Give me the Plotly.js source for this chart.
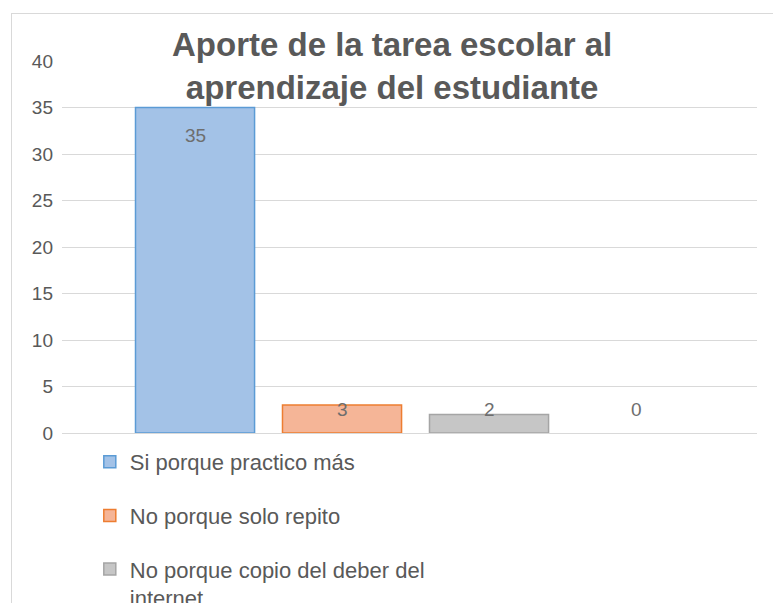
<!DOCTYPE html>
<html>
<head>
<meta charset="utf-8">
<script src="https://cdn.plot.ly/plotly-3.0.1.min.js"></script>
<style>
  html, body { margin: 0; padding: 0; background: #fff; }
  #wrap { position: relative; width: 773px; height: 603px; overflow: hidden; }
  #chart { position: absolute; left: 0; top: 0; width: 773px; height: 603px; }
  #frame { position: absolute; left: 11px; top: 13px; width: 780px; height: 620px;
           border: 1px solid #d9d9d9; box-sizing: border-box; pointer-events: none; }
</style>
</head>
<body>
<div id="wrap">
  <div id="chart"></div>
  <div id="frame"></div>
</div>
<script>
const categories = ["Si porque practico más", "No porque solo repito", "No porque copio del deber del<br>internet", "Otro"];
const values = [35, 3, 2, 0];
const tickValues = [0, 5, 10, 15, 20, 25, 30, 35, 40];
const titleText = "<b>Aporte de la tarea escolar al<br>aprendizaje del estudiante</b>";
const fillColors = ["#a3c2e7", "#f5b597", "#c6c6c6", "#ffffff"];
const lineColors = ["#5b9bd5", "#ed7d31", "#a5a5a5", "#ffffff"];
const showInLegend = [true, true, true, false];

const FONT = "Liberation Sans, Arial, sans-serif";

const traces = categories.map((c, i) => ({
  type: "bar",
  name: c,
  x: [c],
  y: [values[i]],
  width: 0.81,
  marker: { color: fillColors[i], line: { color: lineColors[i], width: 1.5 } },
  showlegend: showInLegend[i],
  legendgroup: "g" + i,
  hoverinfo: "skip"
}));

const annotations = categories.map((c, i) => ({
  x: c, y: Math.max(values[i] - 3.0, 2.5), xref: "x", yref: "y",
  text: String(values[i]), showarrow: false,
  font: { family: FONT, size: 19, color: "#6e6e6e" }
}));
annotations.push({
  text: titleText, showarrow: false,
  xref: "paper", x: (392 - 62) / 695, xanchor: "center",
  yref: "paper", y: (433 - 66) / 372, yanchor: "middle",
  font: { family: FONT, size: 33, color: "#595959" }
});

const layout = {
  width: 773, height: 603,
  margin: { l: 62, r: 16, t: 61, b: 170, autoexpand: false },
  paper_bgcolor: "#ffffff", plot_bgcolor: "#ffffff",
  barmode: "overlay",
  xaxis: {
    type: "category", categoryorder: "array", categoryarray: categories,
    range: [-0.905, 3.823], showticklabels: false, showgrid: false,
    zeroline: false, showline: false, ticks: "", fixedrange: true
  },
  yaxis: {
    range: [0, 40], tickvals: tickValues, ticktext: tickValues.map(String),
    showgrid: true, gridcolor: "#d9d9d9", gridwidth: 1,
    zeroline: true, zerolinecolor: "#d9d9d9", zerolinewidth: 1,
    showline: false, ticks: "", ticklabelstandoff: 8,
    tickfont: { family: FONT, size: 19, color: "#595959" },
    fixedrange: true
  },
  showlegend: true,
  legend: {
    orientation: "v", x: 0.04, xanchor: "left", y: -0.0215, yanchor: "top",
    traceorder: "grouped", tracegroupgap: 22, valign: "top",
    font: { family: FONT, size: 22, color: "#595959" },
    bgcolor: "rgba(0,0,0,0)"
  },
  annotations: annotations
};

Plotly.newPlot("chart", traces, layout, { displayModeBar: false, staticPlot: true });
</script>
</body>
</html>
